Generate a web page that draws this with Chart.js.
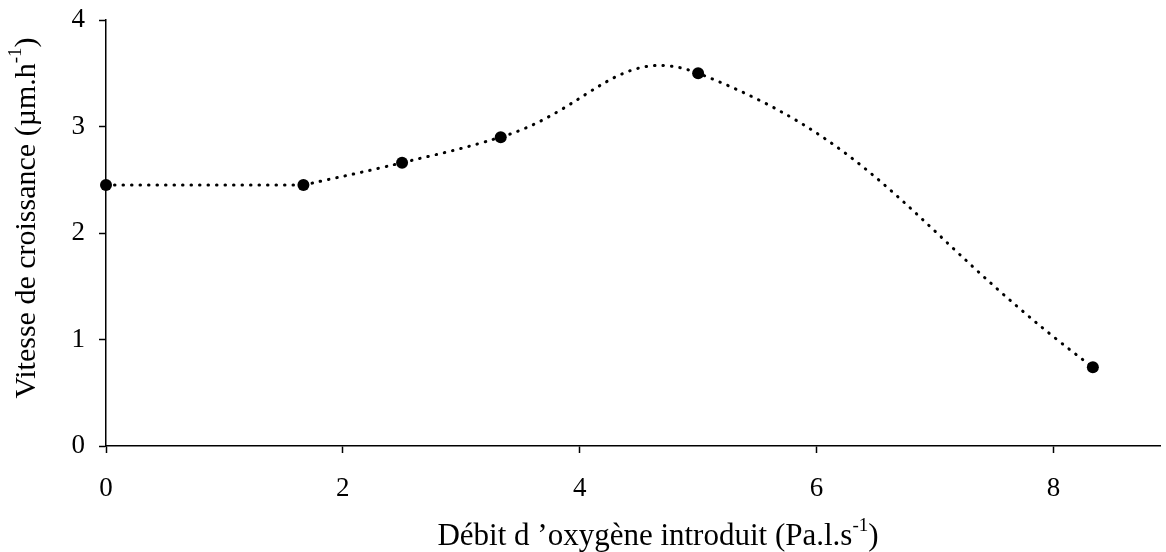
<!DOCTYPE html>
<html>
<head>
<meta charset="utf-8">
<script src="https://cdn.jsdelivr.net/npm/chart.js@4/dist/chart.umd.min.js"></script>
<style>
  html, body { margin: 0; padding: 0; background: #fff; }
  #wrap { width: 1166px; height: 552px; }
</style>
</head>
<body>
<div id="wrap"><canvas id="c" width="1166" height="552"></canvas></div>
<script>
// Oxygen flow rate (Pa.l/s) and corresponding growth rate (µm/h)
const oxygenFlow = [0, 1.667, 2.5, 3.333, 5.0, 8.333];
const growthRate = [2.45, 2.45, 2.66, 2.90, 3.50, 0.74];
const xTicks = [0, 2, 4, 6, 8];
const yTicks = [0, 1, 2, 3, 4];

const xTitle = [['Débit d \u2019oxygène introduit (Pa.l.s', false], ['-1', true], [')', false]];
const yTitle = [['Vitesse de croissance (µm.h', false], ['-1', true], [')', false]];

const SERIF = '"Liberation Serif", "Times New Roman", serif';

const points = oxygenFlow.map((x, i) => ({ x, y: growthRate[i] }));

// Draws a title made of normal and superscript runs, centred on the origin
function drawRuns(ctx, runs, size) {
  const supSize = Math.round(size * 0.62);
  let total = 0;
  runs.forEach(([t, sup]) => {
    ctx.font = (sup ? supSize : size) + 'px ' + SERIF;
    total += ctx.measureText(t).width;
  });
  let x = -total / 2;
  runs.forEach(([t, sup]) => {
    ctx.font = (sup ? supSize : size) + 'px ' + SERIF;
    ctx.fillText(t, x, sup ? -size * 0.36 : 0);
    x += ctx.measureText(t).width;
  });
}

const axisTitles = {
  id: 'axisTitles',
  afterDraw(chart) {
    const ctx = chart.ctx;
    ctx.save();
    ctx.fillStyle = '#000';
    ctx.textBaseline = 'middle';
    ctx.textAlign = 'left';
    ctx.translate(658, 537);
    drawRuns(ctx, xTitle, 31);
    ctx.restore();
    ctx.save();
    ctx.fillStyle = '#000';
    ctx.textBaseline = 'middle';
    ctx.textAlign = 'left';
    ctx.translate(27, 218);
    ctx.rotate(-Math.PI / 2);
    drawRuns(ctx, yTitle, 30);
    ctx.restore();
  }
};

// Fixed axis band sizes so the plot area sits at left 106 / bottom 446
function noScalePadding(s) {
  s.paddingTop = 0; s.paddingBottom = 0; s.paddingLeft = 0; s.paddingRight = 0;
}

const dotted = {
  showLine: true,
  borderColor: '#000',
  borderWidth: 3,
  borderDash: [0.5, 8],
  borderCapStyle: 'round',
  pointRadius: 0,
  clip: false
};

new Chart(document.getElementById('c'), {
  type: 'scatter',
  data: {
    datasets: [
      // flat opening stretch, straight
      Object.assign({ data: points.slice(0, 2), tension: 0 }, dotted),
      // smoothed curve through the remaining measurements
      Object.assign({ data: points.slice(1), tension: 0.45 }, dotted),
      // measured points
      {
        data: points,
        showLine: false,
        pointRadius: 6,
        pointBackgroundColor: '#000',
        pointBorderColor: '#000',
        pointBorderWidth: 0,
        clip: false
      }
    ]
  },
  options: {
    responsive: false,
    animation: false,
    events: [],
    layout: { padding: { top: 20, right: 0, bottom: 0, left: 0 } },
    plugins: { legend: { display: false }, tooltip: { enabled: false } },
    scales: {
      x: {
        type: 'linear',
        min: 0,
        max: 8.9,
        afterBuildTicks(s) { s.ticks = xTicks.map(v => ({ value: v })); },
        afterFit(s) { s.height = 106; noScalePadding(s); },
        grid: { display: true, drawOnChartArea: false, drawTicks: true, tickLength: 7, tickColor: '#000', tickWidth: 1.5 },
        border: { color: '#000', width: 1.5 },
        ticks: { color: '#000', font: { family: SERIF, size: 27 }, padding: 20, maxRotation: 0 }
      },
      y: {
        min: 0,
        max: 4,
        afterBuildTicks(s) { s.ticks = yTicks.map(v => ({ value: v })); },
        afterFit(s) { s.width = 106; noScalePadding(s); },
        grid: { display: true, drawOnChartArea: false, drawTicks: true, tickLength: 7, tickColor: '#000', tickWidth: 1.5 },
        border: { color: '#000', width: 1.5 },
        ticks: { color: '#000', font: { family: SERIF, size: 27 }, padding: 14 }
      }
    }
  },
  plugins: [axisTitles]
});
</script>
</body>
</html>
